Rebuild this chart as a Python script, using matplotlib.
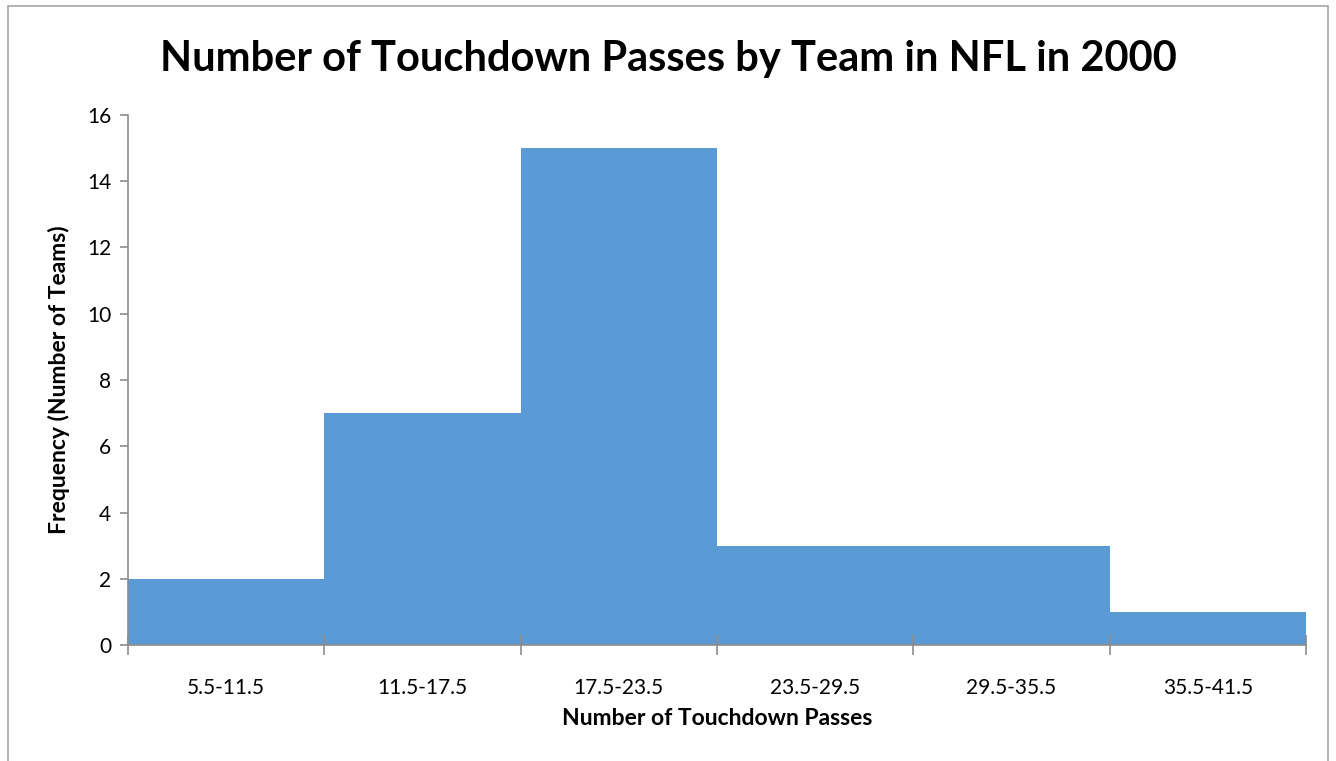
import numpy as np
import matplotlib.pyplot as plt
from matplotlib.patches import Rectangle

# Histogram data
bin_labels = ['5.5-11.5', '11.5-17.5', '17.5-23.5', '23.5-29.5', '29.5-35.5', '35.5-41.5']
frequency = [2, 7, 15, 3, 3, 1]

plt.rcParams['font.family'] = ['Lato', 'DejaVu Sans']

fig = plt.figure(figsize=(13.36, 7.61), dpi=100)
ax = fig.add_axes([0.0958, 0.1524, 0.8817, 0.6965])

x = np.arange(len(frequency))
ax.bar(x, frequency, width=1.0, color='#5B9BD5', align='edge', linewidth=0)

ax.set_xlim(0, len(frequency))
ax.set_ylim(0, 16)
ax.set_yticks(np.arange(0, 17, 2))
ax.tick_params(axis='y', length=6, width=1.2, color='#8c8c8c', labelsize=15, pad=6)

# bin boundaries as major ticks (crossing the axis), labels centered at minor ticks
ax.set_xticks(np.arange(len(frequency) + 1))
ax.set_xticklabels([])
ax.tick_params(axis='x', which='major', direction='inout', length=14, width=1.2, color='#8c8c8c')
ax.set_xticks(x + 0.5, minor=True)
ax.set_xticklabels(bin_labels, minor=True)
ax.tick_params(axis='x', which='minor', length=0, labelsize=15, pad=24)

for s in ['top', 'right']:
    ax.spines[s].set_visible(False)
for s in ['left', 'bottom']:
    ax.spines[s].set_color('#8c8c8c')
    ax.spines[s].set_linewidth(1.2)

ax.set_xlabel('Number of Touchdown Passes', fontsize=16.5, fontweight='bold', labelpad=7)
ax.set_ylabel('Frequency (Number of Teams)', fontsize=16.5, fontweight='bold', labelpad=12)
fig.suptitle('Number of Touchdown Passes by Team in NFL in 2000', x=0.5, y=0.948,
             fontsize=30, fontweight='bold')

# chart area border
fig.patches.append(Rectangle((8 / 1336, -0.01), 1320 / 1336, 1 - 6 / 761 + 0.01,
                             transform=fig.transFigure, fill=False,
                             edgecolor='#a6a6a6', linewidth=1.2))

fig.savefig('out.png', dpi=100)
